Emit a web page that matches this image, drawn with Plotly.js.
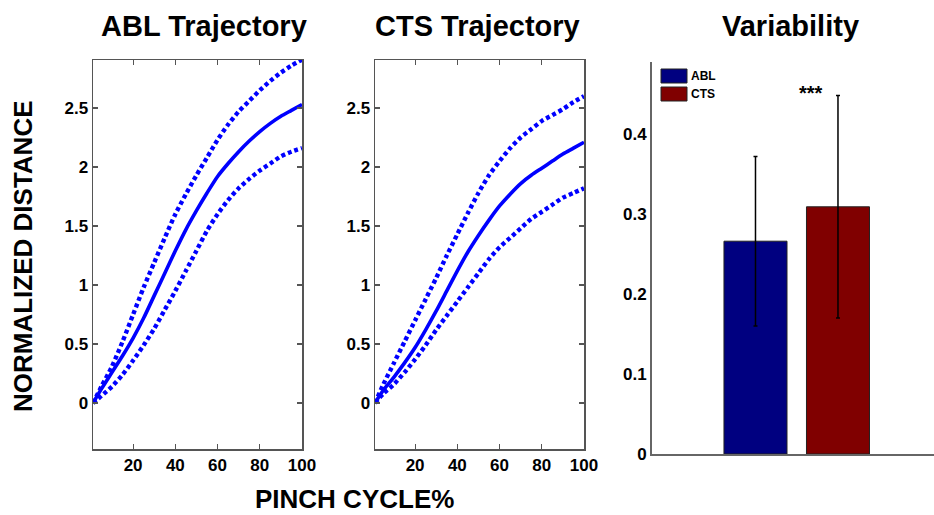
<!DOCTYPE html>
<html>
<head>
<meta charset="utf-8">
<script src="https://cdn.plot.ly/plotly-3.0.1.min.js"></script>
<style>html,body{margin:0;padding:0;background:#fff;}#chart{width:934px;height:515px;}</style>
</head>
<body>
<div id="chart"></div>
<script>
// ---- data ----
const pinchPct = [1,5,10,15,20,25,30,35,40,45,50,55,60,65,70,75,80,85,90,95,100];
const ablMean  = [0,0.12,0.26,0.40,0.55,0.72,0.91,1.10,1.29,1.47,1.63,1.78,1.92,2.03,2.13,2.22,2.30,2.37,2.43,2.48,2.53];
const ablUpper = [0,0.14,0.31,0.52,0.75,0.98,1.19,1.40,1.60,1.77,1.93,2.08,2.23,2.36,2.47,2.56,2.65,2.73,2.80,2.86,2.91];
const ablLower = [0,0.06,0.14,0.24,0.36,0.49,0.63,0.79,0.95,1.12,1.29,1.46,1.60,1.72,1.82,1.90,1.97,2.03,2.09,2.13,2.16];
const ctsMean  = [0,0.11,0.22,0.34,0.47,0.62,0.78,0.95,1.12,1.28,1.42,1.55,1.67,1.77,1.86,1.93,1.99,2.05,2.11,2.16,2.21];
const ctsUpper = [0,0.16,0.34,0.52,0.70,0.88,1.06,1.25,1.43,1.61,1.78,1.93,2.05,2.16,2.25,2.32,2.39,2.44,2.49,2.55,2.60];
const ctsLower = [0,0.08,0.16,0.26,0.37,0.49,0.62,0.74,0.86,0.98,1.10,1.22,1.32,1.40,1.48,1.56,1.62,1.68,1.74,1.78,1.82];
const groups   = ['ABL','CTS'];
const varMean  = [0.266,0.309];
const varErr   = [0.106,0.139];
const pinchTicks = [20,40,60,80,100];
const distTicks  = [0,0.5,1,1.5,2,2.5];
const distTickText = ['0','0.5','1','1.5','2','2.5'];
const varTicks   = [0,0.1,0.2,0.3,0.4];
const varTickText = ['0','0.1','0.2','0.3','0.4'];
const groupColors = ['#000080','#800000'];

// ---- styling ----
const FONT = 'Liberation Sans, Arial, Helvetica, sans-serif';
const BLUE = '#0000ff';
const groupPos = groups.map((g,i)=>i+1);

function line(x, y, xa, ya, dotted){
  return {x:x, y:y, xaxis:xa, yaxis:ya, type:'scatter', mode:'lines',
    line:{color:BLUE, width: dotted?4.4:3.6, dash: dotted?'4px,3px':'solid', shape:'spline', smoothing:0.7},
    hoverinfo:'skip', showlegend:false};
}

const traces = [
  line(pinchPct, ablUpper, 'x', 'y', true),
  line(pinchPct, ablLower, 'x', 'y', true),
  line(pinchPct, ablMean, 'x', 'y', false),
  line(pinchPct, ctsUpper, 'x2', 'y2', true),
  line(pinchPct, ctsLower, 'x2', 'y2', true),
  line(pinchPct, ctsMean, 'x2', 'y2', false)
];
groups.forEach((g,i)=>{
  traces.push({type:'bar', x:[groupPos[i]], y:[varMean[i]], name:g, xaxis:'x3', yaxis:'y3',
    width:0.764, marker:{color:groupColors[i], line:{color:'#222', width:1}},
    error_y:{type:'data', array:[varErr[i]], visible:true, color:'#000', thickness:1.5, width:2},
    showlegend:false});
});

const tickFont = {family:FONT, size:17, weight:'bold', color:'#000'};
function trajX(dom){
  return {domain:dom, range:[1,100], tickvals:pinchTicks, ticktext:pinchTicks.map(String),
    showline:true, linecolor:'#555', linewidth:1.5, mirror:'ticks', ticks:'inside', ticklen:5,
    tickcolor:'#555', tickwidth:1.2, showgrid:false, zeroline:false, tickfont:tickFont, fixedrange:true};
}
function trajY(dom, anchor){
  return {domain:dom, anchor:anchor, range:[-0.39,2.907], tickvals:distTicks, ticktext:distTickText,
    showline:true, linecolor:'#555', linewidth:1.5, mirror:'ticks', ticks:'inside', ticklen:5,
    tickcolor:'#555', tickwidth:1.2, showgrid:false, zeroline:false, tickfont:tickFont, fixedrange:true};
}
const yDom12 = [1-449/515, 1-60/515];
const yDom3 = [1-454/515, 1-62/515];

const titleFont = {family:FONT, size:29, weight:'bold', color:'#000'};
const axTitleFont = {family:FONT, size:26, weight:'bold', color:'#000'};

const layout = {
  width:934, height:515, margin:{l:0,r:0,t:0,b:0}, paper_bgcolor:'#fff', plot_bgcolor:'#fff',
  showlegend:false,
  xaxis: Object.assign(trajX([93/934, 302/934]), {anchor:'y'}),
  yaxis: trajY(yDom12, 'x'),
  xaxis2: Object.assign(trajX([375/934, 584/934]), {anchor:'y2'}),
  yaxis2: trajY(yDom12, 'x2'),
  xaxis3: {domain:[652/934, 1], anchor:'y3', range:[-0.2545, 3.164], showline:true, linecolor:'#666', linewidth:2,
    ticks:'', showticklabels:false, showgrid:false, zeroline:false, fixedrange:true},
  yaxis3: {domain:yDom3, anchor:'x3', range:[0,0.49], tickvals:varTicks, ticktext:varTickText, showline:true,
    linecolor:'#666', linewidth:2, ticks:'', showgrid:false, zeroline:false, tickfont:tickFont, fixedrange:true},
  shapes:[
    {type:'rect', xref:'paper', yref:'paper', x0:661/934, x1:687/934, y0:1-83/515, y1:1-69/515,
      fillcolor:groupColors[0], line:{color:'#222', width:1}},
    {type:'rect', xref:'paper', yref:'paper', x0:661/934, x1:687/934, y0:1-101/515, y1:1-87/515,
      fillcolor:groupColors[1], line:{color:'#222', width:1}}
  ],
  annotations:[
    {text:'ABL Trajectory', xref:'paper', yref:'paper', x:204/934, y:1-26/515, xanchor:'center', yanchor:'middle', showarrow:false, font:titleFont},
    {text:'CTS Trajectory', xref:'paper', yref:'paper', x:477/934, y:1-26/515, xanchor:'center', yanchor:'middle', showarrow:false, font:titleFont},
    {text:'Variability', xref:'paper', yref:'paper', x:790/934, y:1-26/515, xanchor:'center', yanchor:'middle', showarrow:false, font:titleFont},
    {text:'NORMALIZED DISTANCE', xref:'paper', yref:'paper', x:23/934, y:1-256/515, xanchor:'center', yanchor:'middle', textangle:-90, showarrow:false, font:axTitleFont},
    {text:'PINCH CYCLE%', xref:'paper', yref:'paper', x:354/934, y:1-499/515, xanchor:'center', yanchor:'middle', showarrow:false, font:axTitleFont},
    {text:groups[0], xref:'paper', yref:'paper', x:689/934, y:1-76/515, xanchor:'left', yanchor:'middle', showarrow:false, font:{family:FONT, size:12, weight:'bold', color:'#000'}},
    {text:groups[1], xref:'paper', yref:'paper', x:689/934, y:1-94/515, xanchor:'left', yanchor:'middle', showarrow:false, font:{family:FONT, size:12, weight:'bold', color:'#000'}},
    {text:'***', xref:'x3', yref:'y3', x:1.67, y:varMean[1]+varErr[1], xanchor:'center', yanchor:'bottom', yshift:-10, showarrow:false, font:{family:FONT, size:20, weight:'bold', color:'#000'}}
  ]
};

Plotly.newPlot('chart', traces, layout, {displayModeBar:false, staticPlot:true});
</script>
</body>
</html>
